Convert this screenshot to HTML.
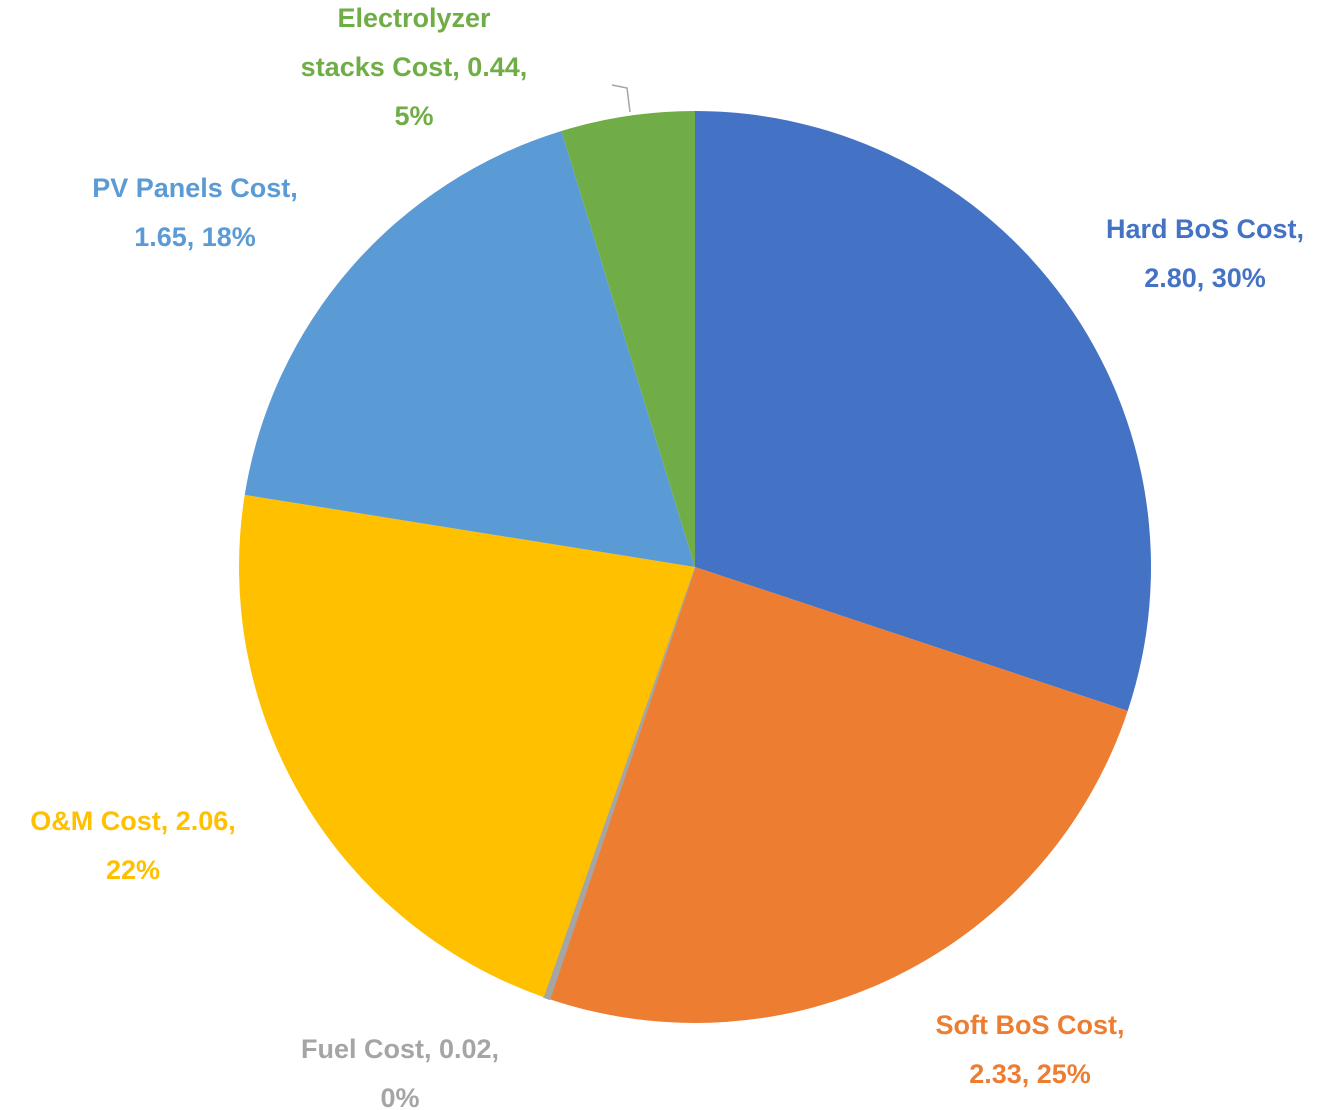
<!DOCTYPE html>
<html><head><meta charset="utf-8"><style>
body{margin:0;background:#fff;}
svg{display:block;}
text{font-family:"Liberation Sans",sans-serif;font-weight:bold;font-size:27px;}
</style></head><body>
<svg id="chart" width="1339" height="1110" viewBox="0 0 1339 1110"></svg>
<script>
const categories=["Hard BoS Cost","Soft BoS Cost","Fuel Cost","O&M Cost","PV Panels Cost","Electrolyzer stacks Cost"];
const values=[2.80,2.33,0.02,2.06,1.65,0.44];
const percentLabels=["30%","25%","0%","22%","18%","5%"];
const colors=["#4472C4","#ED7D31","#A5A5A5","#FFC000","#5B9BD5","#70AD47"];
const labelLines=[["Hard BoS Cost,","2.80, 30%"],["Soft BoS Cost,","2.33, 25%"],["Fuel Cost, 0.02,","0%"],["O&M Cost, 2.06,","22%"],["PV Panels Cost,","1.65, 18%"],["Electrolyzer","stacks Cost, 0.44,","5%"]];
const labelPos=[[1205,238],[1030,1034],[400,1058],[133,830],[195,197],[414,27]];
const svg=document.getElementById('chart');
const NS="http://www.w3.org/2000/svg";
const cx=695,cy=567,r=456;
const total=values.reduce((a,b)=>a+b,0);
function pt(a){return [cx+r*Math.sin(a),cy-r*Math.cos(a)];}
let start=0;
values.forEach((v,i)=>{
  const ang=v/total*2*Math.PI;const end=start+ang;
  const p1=pt(start),p2=pt(end);
  const path=document.createElementNS(NS,'path');
  path.setAttribute('d',`M${cx},${cy} L${p1[0]},${p1[1]} A${r},${r} 0 ${ang>Math.PI?1:0} 1 ${p2[0]},${p2[1]} Z`);
  path.setAttribute('fill',colors[i]);
  if(i===2){path.setAttribute('stroke',colors[i]);path.setAttribute('stroke-width','1.5');}
  
  
  svg.appendChild(path);
  start=end;
});
const lead=document.createElementNS(NS,'polyline');
lead.setAttribute('points','612,85 627,88 630,112');
lead.setAttribute('fill','none');lead.setAttribute('stroke','#A5A5A5');lead.setAttribute('stroke-width','1.5');


svg.appendChild(lead);
labelLines.forEach((lines,i)=>{
  const t=document.createElementNS(NS,'text');
  t.setAttribute('x',labelPos[i][0]);t.setAttribute('y',labelPos[i][1]);
  t.setAttribute('text-anchor','middle');t.setAttribute('fill',colors[i]);
  
  
  lines.forEach((l,j)=>{const s=document.createElementNS(NS,'tspan');s.setAttribute('x',labelPos[i][0]);s.setAttribute('dy',j?49:0);s.textContent=l;t.appendChild(s);});
  svg.appendChild(t);
});
</script>
</body></html>
